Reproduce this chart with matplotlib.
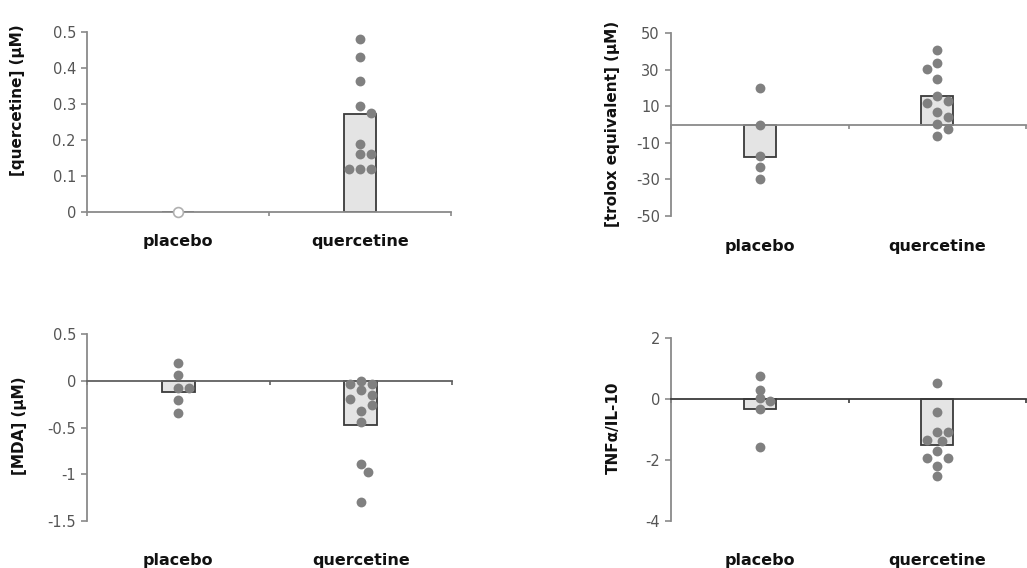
import numpy as np
import matplotlib.pyplot as plt
import matplotlib as mpl
from matplotlib.transforms import offset_copy

mpl.rc("font", family="DejaVu Sans", size=10)
mpl.rc("figure", facecolor="w")
mpl.rc("axes", unicode_minus=False)

# ----- DATA -----

categories = ["placebo", "quercetine"]

# [quercetine] (uM)
quer_placebo = [0.0]
quer_quercetine = [0.48, 0.43, 0.365, 0.295, 0.275, 0.19, 0.16, 0.16, 0.12, 0.12, 0.12]
quer_means = [0.0, 0.272]
quer_ticks = [0, 0.1, 0.2, 0.3, 0.4, 0.5]
quer_ticklabels = ["0", "0.1", "0.2", "0.3", "0.4", "0.5"]

# [trolox equivalent] (uM)
trolox_placebo = [20, 0, -17, -23, -30]
trolox_quercetine = [40.7, 33.8, 30.6, 25, 15.5, 12.8, 11.5, 6.7, 4.2, 0.4, -2.7, -6.4]
trolox_means = [-18, 15.7]
trolox_ticks = [-50, -30, -10, 10, 30, 50]
trolox_ticklabels = ["-50", "-30", "-10", "10", "30", "50"]

# [MDA] (uM)
mda_placebo = [0.186, 0.06, -0.08, -0.08, -0.21, -0.35]
mda_quercetine = [0.0, -0.03, -0.03, -0.1, -0.15, -0.2, -0.26, -0.32, -0.44, -0.89, -0.98, -1.3]
mda_means = [-0.125, -0.476]
mda_ticks = [-1.5, -1, -0.5, 0, 0.5]
mda_ticklabels = ["-1.5", "-1", "-0.5", "0", "0.5"]

# TNFa/IL-10
tnf_placebo = [0.76, 0.3, 0.04, -0.08, -0.33, -1.57]
tnf_quercetine = [0.52, -0.41, -1.09, -1.09, -1.33, -1.39, -1.72, -1.93, -1.93, -2.19, -2.54]
tnf_means = [-0.32, -1.51]
tnf_ticks = [-4, -2, 0, 2]
tnf_ticklabels = ["-4", "-2", "0", "2"]

# swarm columns of the dots (left -1, centre 0, right 1)
quer_cols = [[0], [0, 0, 0, 0, 1, 0, 0, 1, -1, 0, 1]]
trolox_cols = [[0, 0, 0, 0, 0], [0, 0, -1, 0, 0, 1, -1, 0, 1, 0, 1, 0]]
mda_cols = [[0, 0, 0, 1, 0, 0], [0, -1, 1, 0, 1, -1, 1, 0, 0, 0, 0.7, 0]]
tnf_cols = [[0, 0, 0, 1, 0, 0], [0, 0, 0, 1, -1, 0.4, 0, -1, 1, 0, 0]]

# ----- LAYOUT / STYLE -----

W, H = 1027, 568
dotcolor = "#808080"
barface = "#e4e4e4"
baredge = "#3a3a3a"
axiscolor = "#8a8a8a"
textcolor = "#555555"
colstep = 0.06
barwidth = 0.18

panels = [
    dict(groups=[quer_placebo, quer_quercetine], means=quer_means, cols=quer_cols,
         ticks=quer_ticks, ticklabels=quer_ticklabels, ylim=(0, 0.5),
         box=(87, 32, 451, 212), ylabel="[quercetine] (\u03bcM)", ylabel_xy=(18, 100),
         catpad=30, open_placebo=True, zerocolor=axiscolor),
    dict(groups=[trolox_placebo, trolox_quercetine], means=trolox_means, cols=trolox_cols,
         ticks=trolox_ticks, ticklabels=trolox_ticklabels, ylim=(-50, 50),
         box=(671, 33, 1026, 216), ylabel="[trolox equivalent] (\u03bcM)", ylabel_xy=(612, 124),
         catpad=31, open_placebo=False, zerocolor=axiscolor),
    dict(groups=[mda_placebo, mda_quercetine], means=mda_means, cols=mda_cols,
         ticks=mda_ticks, ticklabels=mda_ticklabels, ylim=(-1.5, 0.5),
         box=(87, 334, 452, 521), ylabel="[MDA] (\u03bcM)", ylabel_xy=(20, 426),
         catpad=39, open_placebo=False, zerocolor="#606060"),
    dict(groups=[tnf_placebo, tnf_quercetine], means=tnf_means, cols=tnf_cols,
         ticks=tnf_ticks, ticklabels=tnf_ticklabels, ylim=(-4, 2),
         box=(671, 338, 1026, 521), ylabel="TNF\u03b1/IL-10", ylabel_xy=(613, 428),
         catpad=39, open_placebo=False, zerocolor="#3a3a3a"),
]

fig = plt.figure(figsize=(W / 100, H / 100), dpi=100)

for p in panels:
    x0, y0, x1, y1 = p["box"]
    ax = fig.add_axes([x0 / W, 1 - y1 / H, (x1 - x0) / W, (y1 - y0) / H])
    ax.set_xlim(-0.5, 1.5)
    ax.set_ylim(p["ylim"])

    xpos = np.arange(len(categories))
    ax.bar(xpos, p["means"], width=barwidth, color=barface, edgecolor=baredge,
           linewidth=1.3, zorder=2)

    for ci, (vals, cols) in enumerate(zip(p["groups"], p["cols"])):
        xs = ci + np.array(cols) * colstep
        if ci == 0 and p["open_placebo"]:
            ax.scatter(xs, vals, s=50, facecolor="w", edgecolor="#b0b0b0",
                       linewidths=1.2, zorder=4, clip_on=False)
        else:
            ax.scatter(xs, vals, s=50, color=dotcolor, linewidths=0, zorder=4,
                       clip_on=False)

    for side in ["top", "right"]:
        ax.spines[side].set_visible(False)
    ax.spines["left"].set_color(axiscolor)
    ax.spines["left"].set_linewidth(1.3)
    ax.spines["bottom"].set_position(("data", 0))
    ax.spines["bottom"].set_color(p["zerocolor"])
    ax.spines["bottom"].set_linewidth(1.3)
    ax.spines["bottom"].set_zorder(3)

    ax.set_yticks(p["ticks"])
    ax.set_yticklabels(p["ticklabels"])
    ax.tick_params(axis="y", direction="out", length=4, width=1.2, color=axiscolor,
                   labelcolor=textcolor, labelsize=10.5, pad=4)
    ax.set_xticks([-0.5, 0.5, 1.5])
    ax.set_xticklabels(["", "", ""])
    ax.tick_params(axis="x", direction="out", length=3, width=1.2, color=p["zerocolor"])

    trans = offset_copy(ax.get_xaxis_transform(), fig=fig, y=-p["catpad"] * 0.72,
                        units="points")
    for ci, name in enumerate(categories):
        ax.text(ci, 0, name, transform=trans, ha="center", va="center",
                fontsize=11.5, fontweight="bold", color="#111111")

    lx, ly = p["ylabel_xy"]
    fig.text(lx / W, 1 - ly / H, p["ylabel"], rotation=90, ha="center", va="center",
             fontsize=11, fontweight="bold", color="#111111")

fig.savefig("out.png", dpi=100)
